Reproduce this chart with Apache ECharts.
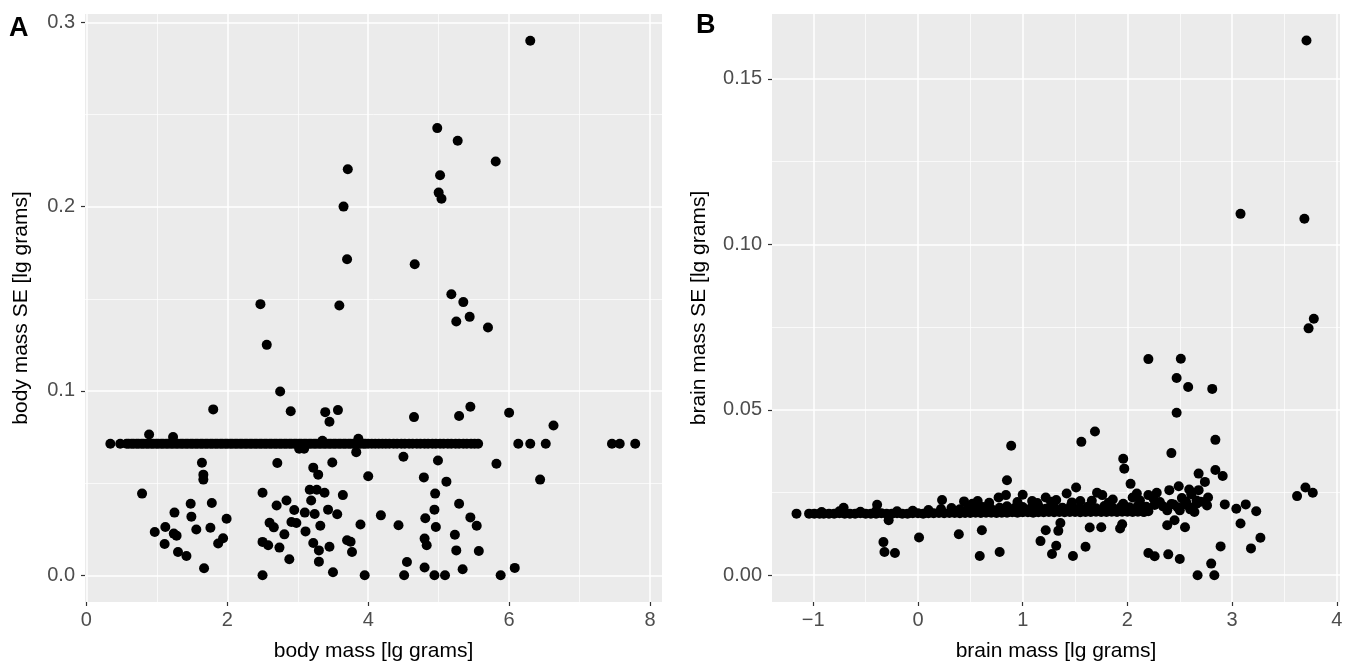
<!DOCTYPE html>
<html>
<head>
<meta charset="utf-8">
<script src="https://cdn.jsdelivr.net/npm/echarts@6/dist/echarts.min.js"></script>
<style>
html,body{margin:0;padding:0;background:#fff;}
#chart{width:1355px;height:671px;}
</style>
</head>
<body>
<div id="chart"></div>
<script>
// ---------- DATA ----------
const panelLabels = ['A', 'B'];
const xTitles = ['body mass [lg grams]', 'brain mass [lg grams]'];
const yTitles = ['body mass SE [lg grams]', 'brain mass SE [lg grams]'];

const ticksAx = [0, 2, 4, 6, 8];
const minorAx = [1, 3, 5, 7];
const ticksAy = [0, 0.1, 0.2, 0.3];
const minorAy = [0.05, 0.15, 0.25];
const ticksBx = [-1, 0, 1, 2, 3, 4];
const minorBx = [-0.5, 0.5, 1.5, 2.5, 3.5];
const ticksBy = [0, 0.05, 0.10, 0.15];
const minorBy = [0.025, 0.075, 0.125];

// Panel A: body mass vs body mass SE (scattered points)
const pointsA = [
  [6.30,0.290],[4.98,0.2426],[5.27,0.2357],[5.81,0.2245],[3.71,0.2203],[5.02,0.217],
  [5.00,0.2076],[5.04,0.2043],[3.65,0.200],[3.70,0.1714],[4.66,0.1687],[5.18,0.1525],
  [5.35,0.1482],[2.47,0.1471],[3.59,0.1464],[5.44,0.1402],[5.25,0.1377],[5.70,0.1344],
  [2.56,0.125],
  [2.75,0.0997],[1.80,0.090],[2.90,0.089],[3.39,0.0885],[3.57,0.0896],[3.45,0.0833],
  [4.65,0.0858],[5.29,0.0864],[5.45,0.0914],[6.00,0.0882],[6.63,0.0813],[0.89,0.0764],
  [1.23,0.075],[3.35,0.073],[3.86,0.074],[3.02,0.0687],[3.09,0.0687],[3.83,0.0668],
  [1.64,0.061],[2.71,0.0609],[3.22,0.0584],[3.49,0.0612],[3.29,0.0546],[1.66,0.0546],
  [1.66,0.0519],[4.00,0.0537],[4.50,0.0643],[4.99,0.0623],[5.82,0.0605],[4.79,0.0531],
  [5.11,0.0508],[6.44,0.0519],[0.79,0.0443],[2.50,0.0448],[3.17,0.0464],[3.27,0.0464],
  [3.38,0.0448],[3.64,0.0435],[4.95,0.0443],[1.48,0.0388],[1.78,0.0392],[1.25,0.034],
  [1.49,0.0318],[1.99,0.0307],[2.70,0.0379],[2.84,0.0406],[2.95,0.0354],[3.19,0.0406],
  [3.10,0.034],[3.24,0.0332],[3.43,0.0356],[3.56,0.0331],[4.18,0.0325],[4.94,0.0356],
  [4.81,0.0309],[5.29,0.0388],[5.45,0.0314],[5.54,0.0269],[0.97,0.0235],[1.12,0.0262],
  [1.24,0.0226],[1.28,0.0215],[1.56,0.0248],[1.76,0.0258],[1.11,0.017],[1.30,0.0126],
  [1.42,0.0105],[1.67,0.0038],[1.94,0.0201],[1.87,0.0172],[2.60,0.0285],[2.66,0.026],
  [2.91,0.0289],[2.98,0.0284],[3.11,0.0238],[3.32,0.0269],[2.81,0.0222],[2.50,0.0181],
  [2.58,0.0163],[2.74,0.015],[2.88,0.0087],[2.50,0.0],[3.22,0.0175],[3.30,0.0135],
  [3.45,0.0155],[3.30,0.0074],[3.50,0.0016],[3.70,0.019],[3.75,0.0182],[3.77,0.0126],
  [3.89,0.0275],[3.95,0.0],[4.43,0.0271],[4.55,0.0072],[4.51,0.0],[4.80,0.0199],
  [4.83,0.0163],[4.80,0.0042],[4.96,0.0262],[4.94,0.0],[5.09,0.0],[5.23,0.022],
  [5.25,0.0135],[5.34,0.0033],[5.57,0.0132],[5.88,0.0],[6.08,0.004]
];
// Panel A: dense band of points at SE ~0.0714
const bandA = [
  [0.34,0.0714],[0.48,0.0714],[0.57,0.0714],[0.60,0.0714],[0.64,0.0714],[0.67,0.0714],
  [0.71,0.0714],[0.74,0.0714],[0.78,0.0714],[0.81,0.0714],[0.85,0.0714],[0.88,0.0714],
  [0.92,0.0714],[0.95,0.0714],[0.99,0.0714],[1.02,0.0714],[1.06,0.0714],[1.09,0.0714],
  [1.13,0.0714],[1.16,0.0714],[1.20,0.0714],[1.23,0.0714],[1.27,0.0714],[1.30,0.0714],
  [1.34,0.0714],[1.37,0.0714],[1.41,0.0714],[1.44,0.0714],[1.48,0.0714],[1.51,0.0714],
  [1.55,0.0714],[1.58,0.0714],[1.62,0.0714],[1.65,0.0714],[1.69,0.0714],[1.72,0.0714],
  [1.76,0.0714],[1.79,0.0714],[1.83,0.0714],[1.86,0.0714],[1.90,0.0714],[1.93,0.0714],
  [1.97,0.0714],[2.00,0.0714],[2.04,0.0714],[2.07,0.0714],[2.11,0.0714],[2.14,0.0714],
  [2.18,0.0714],[2.21,0.0714],[2.25,0.0714],[2.28,0.0714],[2.32,0.0714],[2.35,0.0714],
  [2.39,0.0714],[2.42,0.0714],[2.46,0.0714],[2.49,0.0714],[2.53,0.0714],[2.56,0.0714],
  [2.60,0.0714],[2.63,0.0714],[2.67,0.0714],[2.70,0.0714],[2.74,0.0714],[2.77,0.0714],
  [2.81,0.0714],[2.84,0.0714],[2.88,0.0714],[2.91,0.0714],[2.95,0.0714],[2.98,0.0714],
  [3.02,0.0714],[3.05,0.0714],[3.09,0.0714],[3.12,0.0714],[3.16,0.0714],[3.19,0.0714],
  [3.23,0.0714],[3.26,0.0714],[3.30,0.0714],[3.33,0.0714],[3.37,0.0714],[3.40,0.0714],
  [3.44,0.0714],[3.47,0.0714],[3.51,0.0714],[3.54,0.0714],[3.58,0.0714],[3.61,0.0714],
  [3.65,0.0714],[3.68,0.0714],[3.72,0.0714],[3.75,0.0714],[3.79,0.0714],[3.82,0.0714],
  [3.86,0.0714],[3.89,0.0714],[3.93,0.0714],[3.96,0.0714],[4.00,0.0714],[4.05,0.0714],
  [4.10,0.0714],[4.15,0.0714],[4.20,0.0714],[4.25,0.0714],[4.30,0.0714],[4.36,0.0714],
  [4.41,0.0714],[4.47,0.0714],[4.52,0.0714],[4.58,0.0714],[4.63,0.0714],[4.69,0.0714],
  [4.74,0.0714],[4.80,0.0714],[4.85,0.0714],[4.91,0.0714],[4.96,0.0714],[5.02,0.0714],
  [5.07,0.0714],[5.13,0.0714],[5.18,0.0714],[5.24,0.0714],[5.29,0.0714],[5.35,0.0714],
  [5.40,0.0714],[5.46,0.0714],[5.51,0.0714],[5.56,0.0714],
  [6.13,0.0714],[6.30,0.0714],[6.52,0.0714],[7.46,0.0714],[7.57,0.0714],[7.79,0.0714]
];

// Panel B: brain mass vs brain mass SE (scattered points)
const pointsB = [
  [3.71,0.1616],[3.08,0.1092],[3.69,0.1077],[3.78,0.0775],[3.73,0.0746],
  [2.20,0.0653],[2.51,0.0654],[2.47,0.0596],[2.58,0.0569],[2.81,0.0563],[2.47,0.0491],
  [1.69,0.0434],[1.56,0.0403],[2.84,0.0409],[0.89,0.0391],[2.42,0.0369],[1.96,0.0352],
  [1.97,0.0322],[0.85,0.0287],[2.03,0.0276],[2.68,0.0307],[2.74,0.0282],[2.84,0.0318],
  [2.91,0.030],[2.09,0.0247],[2.20,0.0242],[2.28,0.0249],[2.40,0.0257],[2.49,0.0269],
  [2.59,0.0259],[2.68,0.0257],[2.77,0.0235],[2.76,0.0211],[2.93,0.0214],[3.04,0.0201],
  [3.13,0.0214],[3.23,0.0193],[3.08,0.0156],[3.27,0.0113],[3.18,0.0081],[2.89,0.0087],
  [2.80,0.0035],[2.67,0.0],[2.83,0.0],[2.50,0.0049],[2.39,0.0063],[2.26,0.0057],
  [2.20,0.0067],[2.55,0.0145],[2.38,0.0151],[2.45,0.0166],[2.38,0.0196],[2.50,0.0196],
  [2.64,0.0191],[3.62,0.0239],[3.70,0.0265],[3.77,0.0249],[1.60,0.0086],[1.48,0.0058],
  [1.28,0.0064],[1.32,0.0089],[1.17,0.0103],[1.22,0.0136],[1.34,0.0134],[1.36,0.0158],
  [1.64,0.0144],[1.75,0.0145],[1.93,0.0141],[1.95,0.0154],[0.78,0.007],[0.59,0.0058],
  [0.61,0.0136],[0.39,0.0124],[0.01,0.0114],[-0.33,0.010],[-0.32,0.007],[-0.22,0.0067],
  [-0.28,0.0166],
  [-0.71,0.0204],[-0.39,0.0213],[0.23,0.0227],[0.44,0.0223],[0.57,0.0224],[0.77,0.0235],
  [0.84,0.0242],[1.00,0.0243],[1.09,0.0224],[1.22,0.0235],[1.32,0.0227],[1.42,0.0247],
  [1.51,0.0265],[1.55,0.0224],[1.71,0.0249],[1.76,0.0242],[1.86,0.0229],[1.96,0.0216],
  [2.05,0.0235],[2.16,0.0191],[2.52,0.0233],[2.56,0.0222],[2.61,0.0245],[2.66,0.0226],
  [2.57,0.0212],[2.44,0.0214],[2.31,0.0221],[2.62,0.0203],
  [0.52,0.0216],[0.68,0.0219],[0.95,0.0221],[1.14,0.0218],[1.27,0.0222],[1.47,0.0220],
  [1.66,0.0225],[1.82,0.0219],[2.12,0.0226],[2.25,0.0231]
];
// Panel B: dense band of points at SE ~0.0186-0.0205
const bandB = [
  [-1.16,0.0186],[-1.04,0.0186],[-0.99,0.0186],[-0.94,0.0186],[-0.90,0.0186],[-0.85,0.0186],
  [-0.80,0.0186],[-0.75,0.0187],[-0.70,0.0186],[-0.65,0.0186],[-0.60,0.0186],[-0.55,0.0187],
  [-0.50,0.0186],[-0.45,0.0186],[-0.40,0.0186],[-0.35,0.0187],[-0.30,0.0186],[-0.25,0.0186],
  [-0.20,0.0187],[-0.15,0.0186],[-0.10,0.0186],[-0.05,0.0187],[0.00,0.0187],[0.05,0.0186],
  [0.10,0.0187],[0.15,0.0187],[0.20,0.0188],[0.25,0.0187],[0.30,0.0188],[0.35,0.0188],
  [0.40,0.0187],[0.45,0.0188],[0.50,0.0188],[0.55,0.0189],[0.60,0.0188],[0.65,0.0189],
  [0.70,0.0189],[0.75,0.0188],[0.80,0.0189],[0.85,0.0189],[0.90,0.0190],[0.95,0.0189],
  [1.00,0.0190],[1.05,0.0190],[1.10,0.0189],[1.15,0.0190],[1.20,0.0190],[1.25,0.0191],
  [1.30,0.0190],[1.35,0.0191],[1.40,0.0190],[1.45,0.0191],[1.50,0.0191],[1.55,0.0190],
  [1.60,0.0191],[1.65,0.0191],[1.70,0.0192],[1.75,0.0191],[1.80,0.0191],[1.85,0.0192],
  [1.90,0.0191],[1.95,0.0192],[2.00,0.0192],[2.05,0.0191],[2.10,0.0192],[2.15,0.0192],
  [2.20,0.0193],
  [-0.92,0.0191],[-0.75,0.0193],[-0.55,0.0192],[-0.40,0.0194],[-0.20,0.0193],[-0.05,0.0195],
  [0.10,0.0197],[0.22,0.0200],[0.32,0.0203],[0.40,0.0199],[0.48,0.0205],[0.55,0.0202],
  [0.62,0.0206],[0.70,0.0200],[0.78,0.0204],[0.85,0.0208],[0.92,0.0202],[1.00,0.0206],
  [1.08,0.0203],[1.15,0.0209],[1.22,0.0201],[1.30,0.0206],[1.38,0.0204],[1.46,0.0210],
  [1.54,0.0203],[1.62,0.0207],[1.70,0.0202],[1.78,0.0209],[1.86,0.0204],[1.94,0.0207],
  [2.02,0.0205],[2.10,0.0210],[2.18,0.0207],[2.26,0.0212],[2.34,0.0208],[2.42,0.0215],
  [2.48,0.0205],[2.55,0.0218],[2.60,0.0199],[2.66,0.0216],[2.70,0.0222]
];

// ---------- CHART ----------
const chart = echarts.init(document.getElementById('chart'), null, {renderer: 'canvas'});
const FONT = '"Liberation Sans", Arial, sans-serif';
const TICK_COLOR = '#4D4D4D';
const minus = v => (v < 0 ? '\u2212' + Math.abs(v) : String(v));

function majorAxis(gridIndex, min, max, ticks, fmt, name, isY, nameGap) {
  return {
    type: 'value', gridIndex, min, max,
    position: isY ? 'left' : 'bottom',
    name, nameLocation: 'middle', nameGap,
    nameRotate: isY ? 90 : 0,
    nameTextStyle: {color: '#000', fontSize: 21, fontFamily: FONT},
    axisLine: {show: false, onZero: false},
    axisTick: {show: true, length: 4, customValues: ticks, lineStyle: {color: '#333', width: 1.2}},
    axisLabel: {show: true, customValues: ticks, formatter: fmt, color: TICK_COLOR, fontSize: 20, fontFamily: FONT, margin: isY ? 10 : 8},
    splitLine: {show: true, lineStyle: {color: '#fff', width: 1.5}},
    z: 1
  };
}
function minorAxis(gridIndex, min, max, ticks, isY) {
  return {
    type: 'value', gridIndex, min, max,
    position: isY ? 'left' : 'bottom',
    axisLine: {show: false, onZero: false},
    axisTick: {show: false, customValues: ticks},
    axisLabel: {show: false, customValues: ticks},
    splitLine: {show: true, lineStyle: {color: '#fff', width: 0.7}},
    z: 0
  };
}

const dot = {color: '#000', opacity: 1};
const option = {
  animation: false,
  backgroundColor: '#fff',
  textStyle: {fontFamily: FONT},
  grid: [
    {left: 85, top: 14, width: 577, height: 588, show: true, backgroundColor: '#EBEBEB', borderWidth: 0},
    {left: 772, top: 14, width: 568, height: 588, show: true, backgroundColor: '#EBEBEB', borderWidth: 0}
  ],
  xAxis: [
    minorAxis(0, -0.02, 8.17, minorAx, false),
    majorAxis(0, -0.02, 8.17, ticksAx, v => String(v), xTitles[0], false, 39),
    minorAxis(1, -1.394, 4.03, minorBx, false),
    majorAxis(1, -1.394, 4.03, ticksBx, v => minus(v), xTitles[1], false, 39)
  ],
  yAxis: [
    minorAxis(0, -0.0145, 0.3045, minorAy, true),
    majorAxis(0, -0.0145, 0.3045, ticksAy, v => v.toFixed(1), yTitles[0], true, 53),
    minorAxis(1, -0.0081, 0.1696, minorBy, true),
    majorAxis(1, -0.0081, 0.1696, ticksBy, v => v.toFixed(2), yTitles[1], true, 62)
  ],
  graphic: [
    {type: 'text', left: 9, top: 15, style: {text: panelLabels[0], fontSize: 27, fontWeight: 'bold', fontFamily: FONT, fill: '#000'}},
    {type: 'text', left: 696, top: 12, style: {text: panelLabels[1], fontSize: 27, fontWeight: 'bold', fontFamily: FONT, fill: '#000'}}
  ],
  series: [
    {type: 'scatter', xAxisIndex: 1, yAxisIndex: 1, data: bandA, symbolSize: 10, itemStyle: dot, silent: true, z: 5},
    {type: 'scatter', xAxisIndex: 1, yAxisIndex: 1, data: pointsA, symbolSize: 10, itemStyle: dot, silent: true, z: 5},
    {type: 'scatter', xAxisIndex: 3, yAxisIndex: 3, data: bandB, symbolSize: 10, itemStyle: dot, silent: true, z: 5},
    {type: 'scatter', xAxisIndex: 3, yAxisIndex: 3, data: pointsB, symbolSize: 10, itemStyle: dot, silent: true, z: 5}
  ]
};
chart.setOption(option);
</script>
</body>
</html>
